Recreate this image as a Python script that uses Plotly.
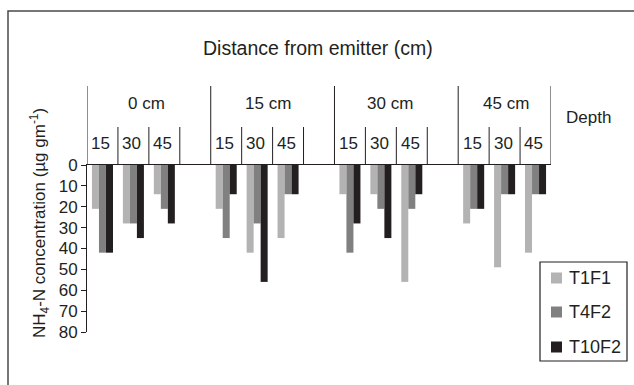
import plotly.graph_objects as go

distances = ["0 cm", "15 cm", "30 cm", "45 cm"]
depths = ["15", "30", "45"]
series_names = ["T1F1", "T4F2", "T10F2"]
t1f1 = [21, 28, 14, 21, 42, 35, 14, 14, 56, 28, 49, 42]
t4f2 = [42, 28, 21, 35, 28, 14, 42, 21, 21, 21, 14, 14]
t10f2 = [42, 35, 28, 14, 56, 14, 28, 35, 14, 21, 14, 14]
y_ticks = [0, 10, 20, 30, 40, 50, 60, 70, 80]

colors = ["#b3b3b3", "#808080", "#231f20"]
ink = "#231f20"
FONT = "Liberation Sans, Arial, sans-serif"

W, H = 634, 385
L, R, T, B = 87, 551, 165, 332


def px(x):
    return (x - L) / (R - L)


def py(y):
    return (B - y) / (B - T)


def label(text, x, y, size=17, xref="paper", xanchor="center", **kw):
    return dict(text=text, xref=xref, yref="paper", x=x, y=py(y),
                xanchor=xanchor, yanchor="middle", showarrow=False,
                font=dict(size=size, color=ink, family=FONT), **kw)


# slot positions: 4 slots per distance group (3 depths + gap)
xpos = [4 * i + j for i in range(len(distances)) for j in range(len(depths))]

fig = go.Figure()
for name, vals, col in zip(series_names, [t1f1, t4f2, t10f2], colors):
    fig.add_trace(go.Bar(
        x=xpos, y=vals, name=name, showlegend=False,
        marker=dict(color=col, line=dict(width=0)),
    ))

shapes = []
# outer frame (cropped at right/bottom)
shapes.append(dict(type="rect", xref="paper", yref="paper",
                   x0=px(8), x1=px(645), y0=py(11), y1=py(400),
                   line=dict(color="#4a4a4a", width=1.5)))
# header lines
n_slots = 4 * len(distances) - 1
for i in range(len(distances)):
    x0 = 4 * i - 0.5
    shapes.append(dict(type="line", xref="x", yref="paper", x0=x0, x1=x0,
                       y0=1, y1=py(86), line=dict(color=ink, width=1)))
    for j in range(1, len(depths) + 1):
        xb = 4 * i + j - 0.5
        if xb >= n_slots - 0.5:
            continue
        shapes.append(dict(type="line", xref="x", yref="paper", x0=xb, x1=xb,
                           y0=1, y1=py(127), line=dict(color=ink, width=1)))
shapes.append(dict(type="line", xref="x", yref="paper", x0=n_slots - 0.5, x1=n_slots - 0.5,
                   y0=1, y1=py(86), line=dict(color=ink, width=1)))

annotations = []
annotations.append(label("Distance from emitter (cm)", px(318), 48, size=19.5))
group_centers = [146, 268, 390, 506]
for d, cx in zip(distances, group_centers):
    annotations.append(label(d, px(cx), 103))
for i in range(len(distances)):
    for j, dp in enumerate(depths):
        annotations.append(label(dp, 4 * i + j - 0.05, 143, xref="x"))
annotations.append(label("Depth", px(588), 118))
annotations.append(label("NH<sub>4</sub>-N concentration (µg gm<sup>-1</sup>)",
                         px(39), 223, textangle=-90))

# manual legend
LEG_L, LEG_R, LEG_T, LEG_B = 540, 627, 262, 361
shapes.append(dict(type="rect", xref="paper", yref="paper",
                   x0=px(LEG_L), x1=px(LEG_R), y0=py(LEG_T), y1=py(LEG_B),
                   fillcolor="white", line=dict(color=ink, width=1.2)))
leg_rows = [278, 312, 347]
for name, col, ry in zip(series_names, colors, leg_rows):
    shapes.append(dict(type="rect", xref="paper", yref="paper",
                       x0=px(551), x1=px(562), y0=py(ry - 5.5), y1=py(ry + 5.5),
                       fillcolor=col, line=dict(width=0)))
    annotations.append(label(name, px(567), ry, size=18, xanchor="left"))

fig.update_layout(
    width=W, height=H,
    margin=dict(l=L, r=W - R, t=T, b=H - B, pad=0, autoexpand=False),
    paper_bgcolor="white", plot_bgcolor="white",
    barmode="group", bargap=0.32, bargroupgap=0,
    font=dict(family=FONT, color=ink, size=17),
    showlegend=False,
    xaxis=dict(range=[-0.5, n_slots - 0.5], side="top", showline=True, linecolor=ink,
               linewidth=1, showticklabels=False, ticks="", showgrid=False, zeroline=False),
    yaxis=dict(range=[80, 0], tickvals=y_ticks, ticks="outside", ticklen=5, tickcolor=ink,
               showline=True, linecolor=ink, linewidth=1, showgrid=False, zeroline=False,
               tickfont=dict(size=17, color=ink, family=FONT)),
    shapes=shapes, annotations=annotations,
)

fig.write_html("out.html")
